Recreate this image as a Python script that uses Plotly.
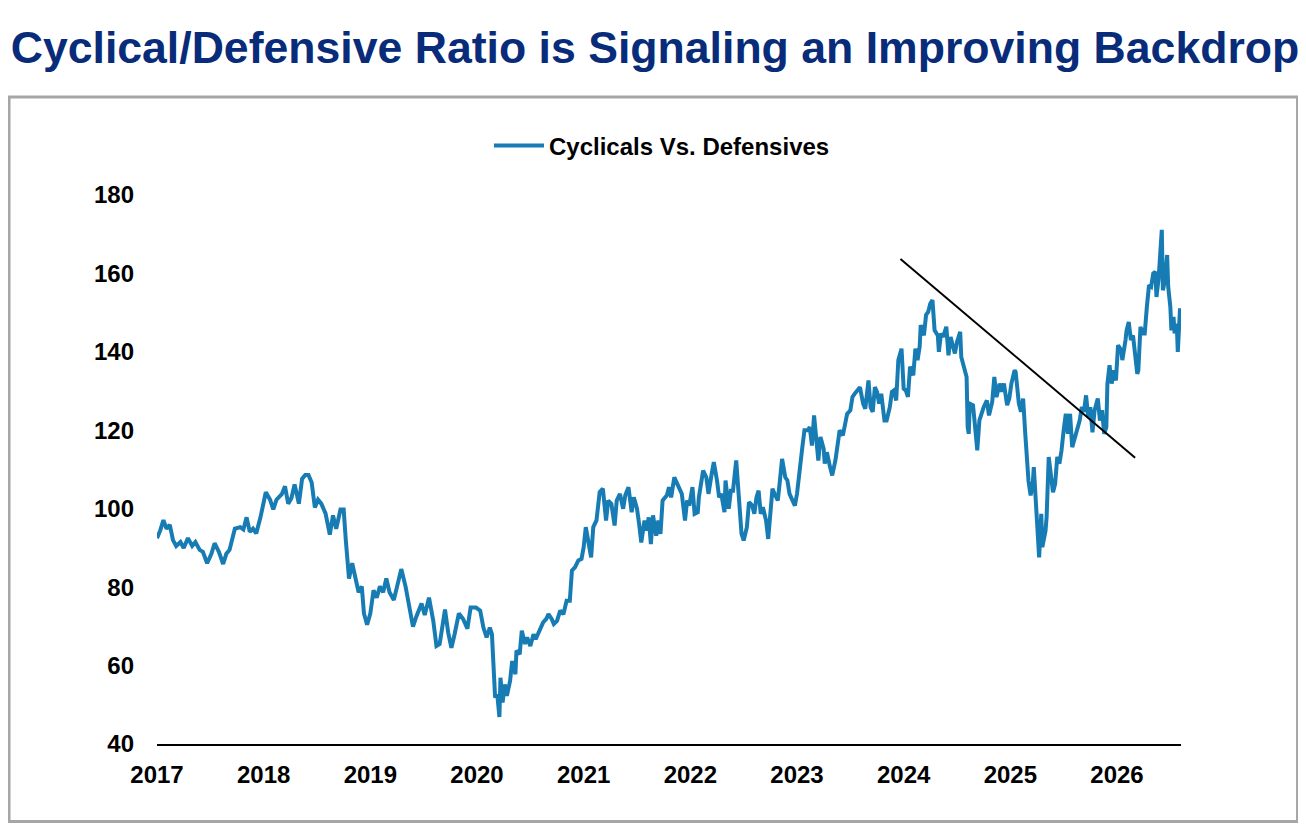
import plotly.graph_objects as go

# Cyclicals vs. Defensives ratio (decimal year, index level)
years = [
    2017.00, 2017.03, 2017.06, 2017.09, 2017.12, 2017.15, 2017.18, 2017.22, 2017.25, 2017.29,
    2017.33, 2017.36, 2017.40, 2017.43, 2017.47, 2017.51, 2017.54, 2017.58, 2017.62, 2017.65,
    2017.68, 2017.73, 2017.78, 2017.81, 2017.84, 2017.87, 2017.90, 2017.93, 2017.97, 2018.00,
    2018.02, 2018.06, 2018.09, 2018.12, 2018.17, 2018.20, 2018.23, 2018.26, 2018.29, 2018.33,
    2018.36, 2018.39, 2018.42, 2018.45, 2018.48, 2018.51, 2018.54, 2018.58, 2018.62, 2018.65,
    2018.68, 2018.72, 2018.75, 2018.77, 2018.80, 2018.83, 2018.86, 2018.89, 2018.92, 2018.94,
    2018.97, 2019.00, 2019.03, 2019.06, 2019.09, 2019.12, 2019.15, 2019.18, 2019.22, 2019.26,
    2019.29, 2019.33, 2019.36, 2019.40, 2019.43, 2019.48, 2019.51, 2019.55, 2019.59, 2019.62,
    2019.65, 2019.70, 2019.73, 2019.76, 2019.79, 2019.83, 2019.87, 2019.91, 2019.94, 2019.99,
    2020.03, 2020.06, 2020.09, 2020.12, 2020.14, 2020.15, 2020.17, 2020.19, 2020.21, 2020.22,
    2020.24, 2020.26, 2020.28, 2020.31, 2020.33, 2020.36, 2020.37, 2020.40, 2020.42, 2020.45,
    2020.47, 2020.50, 2020.53, 2020.55, 2020.58, 2020.62, 2020.65, 2020.67, 2020.70, 2020.72,
    2020.75, 2020.78, 2020.81, 2020.84, 2020.87, 2020.89, 2020.92, 2020.95, 2020.98, 2021.00,
    2021.02, 2021.04, 2021.07, 2021.09, 2021.12, 2021.15, 2021.18, 2021.21, 2021.23, 2021.26,
    2021.29, 2021.31, 2021.34, 2021.37, 2021.39, 2021.42, 2021.45, 2021.47, 2021.50, 2021.52,
    2021.54, 2021.57, 2021.59, 2021.61, 2021.63, 2021.65, 2021.68, 2021.70, 2021.72, 2021.74,
    2021.78, 2021.80, 2021.82, 2021.85, 2021.89, 2021.92, 2021.95, 2021.97, 2021.99, 2022.02,
    2022.04, 2022.07, 2022.08, 2022.12, 2022.15, 2022.17, 2022.20, 2022.22, 2022.25, 2022.27,
    2022.29, 2022.32, 2022.33, 2022.36, 2022.38, 2022.40, 2022.43, 2022.44, 2022.46, 2022.48,
    2022.50, 2022.53, 2022.55, 2022.58, 2022.60, 2022.62, 2022.64, 2022.66, 2022.68, 2022.71,
    2022.73, 2022.75, 2022.77, 2022.79, 2022.82, 2022.84, 2022.86, 2022.89, 2022.91, 2022.93,
    2022.96, 2022.98, 2023.00, 2023.03, 2023.05, 2023.07, 2023.10, 2023.12, 2023.14, 2023.16,
    2023.18, 2023.20, 2023.22, 2023.25, 2023.26, 2023.28, 2023.31, 2023.33, 2023.36, 2023.38,
    2023.40, 2023.43, 2023.45, 2023.47, 2023.50, 2023.52, 2023.54, 2023.59, 2023.62, 2023.64,
    2023.67, 2023.69, 2023.71, 2023.73, 2023.75, 2023.77, 2023.79, 2023.82, 2023.84, 2023.87,
    2023.89, 2023.91, 2023.93, 2023.95, 2023.98, 2024.00, 2024.02, 2024.04, 2024.06, 2024.09,
    2024.11, 2024.13, 2024.15, 2024.16, 2024.19, 2024.21, 2024.23, 2024.25, 2024.27, 2024.29,
    2024.32, 2024.33, 2024.35, 2024.37, 2024.40, 2024.42, 2024.44, 2024.46, 2024.48, 2024.50,
    2024.53, 2024.54, 2024.57, 2024.59, 2024.60, 2024.61, 2024.62, 2024.65, 2024.67, 2024.69,
    2024.71, 2024.73, 2024.75, 2024.78, 2024.80, 2024.83, 2024.85, 2024.87, 2024.90, 2024.92,
    2024.94, 2024.97, 2024.99, 2025.01, 2025.04, 2025.05, 2025.08, 2025.10, 2025.12, 2025.14,
    2025.15, 2025.17, 2025.19, 2025.21, 2025.22, 2025.24, 2025.26, 2025.27, 2025.29, 2025.30,
    2025.33, 2025.34, 2025.36, 2025.38, 2025.40, 2025.42, 2025.44, 2025.46, 2025.48, 2025.50,
    2025.52, 2025.54, 2025.56, 2025.58, 2025.61, 2025.63, 2025.65, 2025.67, 2025.69, 2025.71,
    2025.73, 2025.75, 2025.77, 2025.79, 2025.82, 2025.84, 2025.86, 2025.88, 2025.90, 2025.91,
    2025.93, 2025.95, 2025.97, 2025.99, 2026.01, 2026.04, 2026.05, 2026.08, 2026.09, 2026.11,
    2026.13, 2026.15, 2026.17, 2026.19, 2026.20, 2026.22, 2026.24, 2026.26, 2026.28, 2026.30,
    2026.32, 2026.34, 2026.36, 2026.37, 2026.39, 2026.40, 2026.42, 2026.43, 2026.45, 2026.47,
    2026.48, 2026.50, 2026.51, 2026.53, 2026.54, 2026.56, 2026.57, 2026.59, 2026.60,
]
ratio = [
    92.5, 94.4, 97.1, 94.9, 95.9, 92.0, 90.5, 91.5, 90.0, 92.5,
    90.5, 91.5, 89.5, 89.0, 86.1, 88.5, 91.2, 89.0, 85.9, 88.5,
    89.5, 94.9, 95.3, 94.7, 97.8, 94.1, 94.9, 93.7, 97.8, 101.3,
    104.2, 102.3, 99.8, 102.3, 103.7, 105.7, 101.3, 102.7, 106.2, 101.3,
    107.6, 108.6, 108.6, 106.7, 100.3, 102.3, 101.3, 98.8, 93.4, 98.3,
    94.9, 99.8, 99.8, 92.0, 82.2, 86.1, 82.2, 78.7, 80.2, 73.3,
    70.4, 73.3, 79.2, 77.3, 80.2, 78.7, 82.2, 78.7, 76.7, 81.7,
    84.6, 80.2, 75.3, 69.9, 72.4, 75.8, 72.9, 77.3, 71.4, 65.0,
    65.5, 74.3, 68.4, 64.5, 68.0, 73.3, 71.9, 69.4, 74.8, 74.8,
    74.0, 69.7, 67.2, 69.7, 68.0, 63.8, 51.8, 52.7, 46.9, 56.9,
    50.6, 55.2, 52.3, 56.1, 61.2, 57.8, 63.8, 62.9, 68.9, 65.5,
    67.2, 65.0, 68.0, 66.7, 68.4, 71.0, 71.9, 73.1, 71.9, 70.6,
    71.4, 74.0, 73.1, 76.5, 76.5, 84.2, 85.1, 86.8, 87.2, 90.2,
    95.3, 92.7, 87.6, 95.3, 97.0, 104.2, 105.1, 97.0, 102.1, 101.2,
    95.7, 102.1, 103.8, 100.0, 103.4, 105.5, 99.1, 102.9, 100.0, 96.1,
    91.4, 97.0, 94.4, 97.8, 91.0, 98.3, 93.1, 97.0, 93.6, 102.1,
    103.4, 105.5, 102.9, 108.0, 105.9, 103.8, 97.0, 102.1, 100.8, 105.5,
    98.7, 99.1, 102.9, 109.7, 108.0, 103.8, 108.9, 111.9, 107.2, 102.9,
    103.8, 99.1, 107.2, 100.0, 104.6, 104.6, 112.3, 108.0, 100.4, 93.6,
    91.9, 95.3, 101.7, 100.8, 98.7, 102.9, 104.6, 98.7, 100.4, 97.0,
    92.3, 100.4, 105.1, 103.8, 102.1, 107.2, 112.7, 108.0, 107.2, 103.8,
    102.1, 100.8, 103.8, 112.3, 115.7, 120.0, 120.0, 120.8, 116.1, 123.8,
    118.3, 112.3, 118.3, 115.3, 111.5, 114.4, 110.6, 108.5, 112.3, 116.6,
    120.0, 118.7, 121.7, 124.2, 125.1, 128.5, 129.3, 131.0, 126.8, 125.5,
    132.7, 125.9, 124.7, 131.0, 129.8, 126.8, 129.3, 122.5, 122.5, 125.9,
    129.8, 130.2, 127.6, 137.9, 140.8, 130.6, 130.2, 128.5, 136.2, 134.0,
    140.8, 137.9, 141.3, 146.8, 144.2, 149.4, 150.2, 152.3, 153.2, 145.5,
    144.2, 140.0, 144.7, 143.8, 146.4, 139.1, 143.8, 142.1, 139.6, 142.5,
    145.1, 138.7, 135.3, 133.6, 120.8, 119.1, 126.8, 126.4, 120.8, 114.9,
    122.5, 124.2, 125.9, 127.6, 123.8, 127.2, 133.6, 128.5, 131.9, 129.8,
    131.9, 126.4, 128.1, 131.9, 135.3, 134.9, 126.8, 124.7, 128.1, 119.1,
    114.0, 107.2, 103.4, 106.3, 110.6, 101.2, 89.3, 87.6, 98.7, 90.2,
    94.4, 97.8, 113.2, 108.9, 104.2, 106.3, 113.2, 111.5, 114.9, 120.0,
    124.2, 119.1, 124.2, 115.7, 118.3, 120.8, 122.5, 125.9, 124.7, 128.9,
    123.4, 125.9, 119.5, 125.1, 128.1, 122.5, 125.1, 119.1, 120.8, 131.9,
    136.6, 131.9, 135.3, 132.7, 141.7, 140.4, 137.9, 143.0, 145.5, 147.6,
    143.0, 144.2, 138.7, 134.4, 135.3, 146.4, 144.7, 144.7, 151.5, 157.0,
    156.6, 160.0, 160.4, 154.0, 158.7, 164.3, 171.1, 155.7, 158.3, 164.7,
    156.6, 151.5, 145.5, 148.9, 144.7, 147.2, 140.0, 150.6, 150.6,
]

# hand-drawn downtrend line (start, end)
trend_years = [2023.97, 2026.17]
trend_values = [163.7, 113.0]

year_ticks = [2017, 2018, 2019, 2020, 2021, 2022, 2023, 2024, 2025, 2026]
value_ticks = [40, 60, 80, 100, 120, 140, 160, 180]

fig = go.Figure()

fig.add_trace(go.Scatter(
    x=years,
    y=ratio,
    mode='lines',
    name='Cyclicals Vs. Defensives',
    line=dict(color='#187CB4', width=4),
))

fig.add_trace(go.Scatter(
    x=trend_years,
    y=trend_values,
    mode='lines',
    showlegend=False,
    line=dict(color='black', width=2),
))

base_font = 'Liberation Sans, Arial, sans-serif'

# page body has an 8px margin, so the figure is sized to fit inside it
W, H = 1298, 824

fig.update_layout(
    width=W,
    height=H,
    margin=dict(l=149, r=125, t=187, b=88),
    plot_bgcolor='white',
    paper_bgcolor='white',
    font=dict(family=base_font, color='black'),
    title=dict(
        text='Cyclical/Defensive Ratio is Signaling an Improving Backdrop',
        font=dict(family=base_font, size=44.6, color='#082C7A', weight='bold'),
        x=647 / W, xanchor='center', xref='container',
        y=1 - 39 / H, yanchor='middle', yref='container',
    ),
    legend=dict(
        orientation='h',
        x=654 / W, xanchor='center', xref='container',
        y=1 - 138 / H, yanchor='middle', yref='container',
        font=dict(family=base_font, size=24, weight='bold', color='black'),
        bgcolor='rgba(0,0,0,0)',
        itemwidth=50,
    ),
    shapes=[dict(
        type='rect', xref='paper', yref='paper',
        x0=-0.1445, x1=1.1138, y0=-0.1412, y1=1.1785,
        line=dict(color='#A6A6A6', width=3),
        fillcolor='rgba(0,0,0,0)',
        layer='below',
    )],
)

fig.update_xaxes(
    range=[2017.0, 2026.6],
    tickvals=year_ticks,
    ticktext=[str(y) for y in year_ticks],
    showgrid=False,
    zeroline=False,
    showline=True,
    linecolor='black',
    linewidth=2,
    ticks='',
    ticklabelstandoff=8,
    tickfont=dict(size=24, weight='bold', color='black'),
)

fig.update_yaxes(
    range=[40, 180],
    tickvals=value_ticks,
    showgrid=False,
    zeroline=False,
    showline=False,
    ticks='',
    ticklabelstandoff=22,
    tickfont=dict(size=24, weight='bold', color='black'),
)

fig.write_html('out.html')
